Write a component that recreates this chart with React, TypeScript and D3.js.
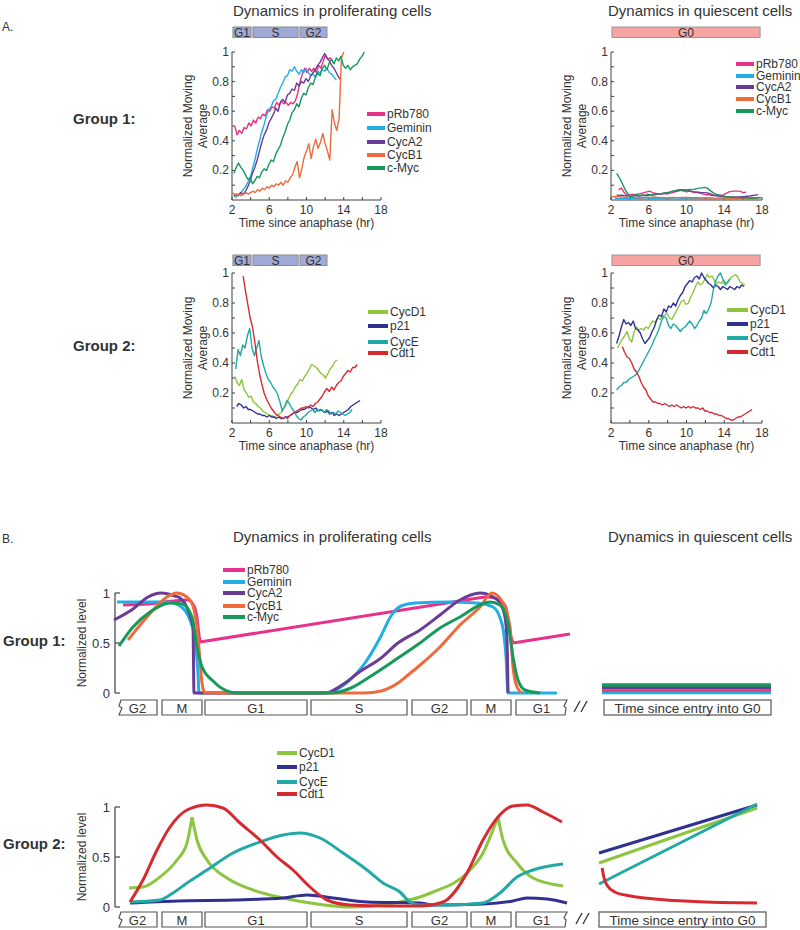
import * as d3 from "d3";

type Pt = [number, number];
type Sampled = { start: number; step: number; vals: number[] };

const FONT = "'Liberation Sans', Arial, Helvetica, sans-serif";
const INK = "#333";
const AXIS = "#404040";

const COLOR: Record<string, string> = {
  pRb780: "#e8318a",
  Geminin: "#20aee5",
  CycA2: "#6b3c97",
  CycB1: "#ef6b3b",
  "c-Myc": "#17995a",
  CycD1: "#8cc540",
  p21: "#2f3192",
  CycE: "#22a9a6",
  Cdt1: "#d72a30",
};

const group1Names = ["pRb780", "Geminin", "CycA2", "CycB1", "c-Myc"];
const group2Names = ["CycD1", "p21", "CycE", "Cdt1"];

// ---- A. moving averages, time since anaphase (hr)
const xTickLabels = [2, 6, 10, 14, 18];
const yTickLabels = [0.2, 0.4, 0.6, 0.8, 1];

const prolifBars = [
  { label: "G1", from: 2.1, to: 4.05 },
  { label: "S", from: 4.25, to: 9.1 },
  { label: "G2", from: 9.3, to: 12.2 },
];
const quiescentBars = [{ label: "G0", from: 2.1, to: 17.8 }];

// group 1, proliferating
const pRb780Prolif: Sampled = { start: 2.3, step: 0.25, vals: [
  0.50, 0.44, 0.47, 0.45, 0.49, 0.48, 0.52, 0.50, 0.54, 0.52, 0.56, 0.55, 0.58, 0.57, 0.61, 0.60,
  0.63, 0.62, 0.66, 0.64, 0.67, 0.65, 0.66, 0.64, 0.66, 0.65, 0.67, 0.72, 0.80, 0.85, 0.89, 0.86,
  0.89, 0.87, 0.89, 0.86, 0.91, 0.89, 0.94, 0.98, 0.95, 0.96, 0.94] };
const gemininProlif: Sampled = { start: 2.2, step: 0.25, vals: [
  0.03, 0.02, 0.04, 0.05, 0.07, 0.09, 0.12, 0.15, 0.21, 0.27, 0.34, 0.40, 0.46, 0.51, 0.57, 0.61,
  0.63, 0.67, 0.68, 0.72, 0.76, 0.79, 0.83, 0.84, 0.88, 0.87, 0.90, 0.87, 0.85, 0.88, 0.86, 0.89,
  0.86, 0.84, 0.85, 0.83, 0.87, 0.86, 0.88, 0.87, 0.89, 0.86, 0.85, 0.83, 0.81] };
const cycA2Prolif: Sampled = { start: 2.2, step: 0.25, vals: [
  0.03, 0.04, 0.03, 0.05, 0.04, 0.06, 0.09, 0.13, 0.18, 0.22, 0.27, 0.33, 0.39, 0.44, 0.47, 0.52,
  0.55, 0.58, 0.62, 0.60, 0.66, 0.68, 0.66, 0.71, 0.72, 0.75, 0.74, 0.79, 0.77, 0.80, 0.79, 0.82,
  0.80, 0.84, 0.86, 0.88, 0.91, 0.93, 0.96, 0.99, 0.96, 0.94, 0.91, 0.89, 0.86, 0.83, 0.81] };
const cycB1Prolif: Sampled = { start: 2.0, step: 0.25, vals: [
  0.05, 0.04, 0.03, 0.04, 0.03, 0.04, 0.05, 0.04, 0.05, 0.06, 0.05, 0.07, 0.06, 0.08, 0.07, 0.09,
  0.08, 0.10, 0.09, 0.11, 0.10, 0.12, 0.10, 0.13, 0.12, 0.15, 0.17, 0.22, 0.26, 0.15, 0.21, 0.29,
  0.33, 0.38, 0.28, 0.36, 0.41, 0.35, 0.39, 0.45, 0.38, 0.33, 0.27, 0.61, 0.52, 0.47, 0.55, 0.96, 1.0] };
const cMycProlif: Sampled = { start: 2.2, step: 0.25, vals: [
  0.18, 0.22, 0.25, 0.22, 0.20, 0.17, 0.14, 0.15, 0.11, 0.13, 0.16, 0.15, 0.19, 0.21, 0.20, 0.24,
  0.27, 0.26, 0.31, 0.34, 0.37, 0.42, 0.46, 0.51, 0.54, 0.59, 0.61, 0.65, 0.63, 0.69, 0.72, 0.71,
  0.76, 0.79, 0.78, 0.83, 0.86, 0.84, 0.89, 0.91, 0.88, 0.93, 0.95, 0.92, 0.96, 0.94, 0.97, 0.91,
  0.89, 0.91, 0.88, 0.90, 0.91, 0.92, 0.95, 0.97, 1.0] };

// group 1, quiescent
const pRb780Quiet: Sampled = { start: 2.8, step: 0.3, vals: [
  0.07, 0.08, 0.05, 0.03, 0.035, 0.04, 0.035, 0.04, 0.045, 0.05, 0.055, 0.06, 0.05, 0.045, 0.04, 0.04,
  0.045, 0.04, 0.045, 0.05, 0.055, 0.06, 0.065, 0.06, 0.055, 0.06, 0.055, 0.05, 0.05, 0.045, 0.04, 0.035,
  0.035, 0.03, 0.03, 0.03, 0.032, 0.035, 0.045, 0.055, 0.058, 0.06, 0.06, 0.058, 0.05, 0.052] };
const gemininQuiet: Sampled = { start: 2.4, step: 0.8, vals: [
  0.01, 0.009, 0.008, 0.008, 0.007, 0.008, 0.009, 0.008, 0.007, 0.008, 0.008, 0.009, 0.008, 0.007,
  0.008, 0.008, 0.007, 0.008, 0.008, 0.008] };
const cycA2Quiet: Sampled = { start: 2.6, step: 0.3, vals: [
  0.035, 0.03, 0.032, 0.028, 0.03, 0.025, 0.028, 0.03, 0.027, 0.03, 0.032, 0.03, 0.035, 0.033, 0.038, 0.04,
  0.042, 0.045, 0.05, 0.055, 0.06, 0.062, 0.066, 0.07, 0.068, 0.065, 0.06, 0.055, 0.055, 0.052, 0.05, 0.05,
  0.048, 0.042, 0.035, 0.03, 0.027, 0.025, 0.022, 0.02, 0.02, 0.02, 0.02, 0.021, 0.022, 0.023, 0.025, 0.027,
  0.03, 0.033, 0.036] };
const cycB1Quiet: Sampled = { start: 2.1, step: 0.5, vals: [
  0.022, 0.024, 0.02, 0.018, 0.02, 0.016, 0.015, 0.017, 0.018, 0.02, 0.018, 0.016, 0.015, 0.017, 0.016, 0.018,
  0.017, 0.015, 0.016, 0.014, 0.015, 0.014, 0.013, 0.014, 0.013, 0.012, 0.013, 0.012, 0.012, 0.013, 0.012, 0.012] };
const cMycQuiet: Sampled = { start: 2.6, step: 0.3, vals: [
  0.18, 0.15, 0.11, 0.07, 0.04, 0.02, 0.03, 0.04, 0.03, 0.035, 0.03, 0.04, 0.035, 0.04, 0.045, 0.04,
  0.045, 0.05, 0.045, 0.055, 0.06, 0.065, 0.07, 0.065, 0.07, 0.068, 0.072, 0.07, 0.075, 0.08, 0.082, 0.085,
  0.08, 0.065, 0.05, 0.04, 0.035, 0.03, 0.025, 0.02, 0.02, 0.018, 0.018, 0.016, 0.015, 0.015, 0.015, 0.014,
  0.015, 0.014, 0.015, 0.015] };

// group 2, proliferating
const cycD1Prolif: Sampled = { start: 2.3, step: 0.25, vals: [
  0.31, 0.27, 0.25, 0.29, 0.22, 0.20, 0.17, 0.18, 0.14, 0.13, 0.11, 0.10, 0.08, 0.07, 0.06, 0.05,
  0.05, 0.04, 0.05, 0.06, 0.07, 0.10, 0.12, 0.16, 0.19, 0.21, 0.24, 0.26, 0.29, 0.28, 0.31, 0.33,
  0.36, 0.39, 0.38, 0.37, 0.35, 0.33, 0.32, 0.30, 0.33, 0.36, 0.38, 0.41, 0.42] };
const p21Prolif: Sampled = { start: 2.5, step: 0.25, vals: [
  0.11, 0.13, 0.12, 0.10, 0.11, 0.09, 0.09, 0.08, 0.07, 0.06, 0.06, 0.05, 0.05, 0.04, 0.05, 0.04,
  0.04, 0.03, 0.04, 0.03, 0.03, 0.04, 0.04, 0.05, 0.06, 0.07, 0.07, 0.08, 0.09, 0.09, 0.10, 0.11,
  0.10, 0.09, 0.10, 0.08, 0.09, 0.08, 0.07, 0.08, 0.06, 0.07, 0.05, 0.06, 0.05, 0.06, 0.07, 0.08,
  0.09, 0.11, 0.12, 0.13, 0.14, 0.15] };
const cycEProlif: Sampled = { start: 2.4, step: 0.25, vals: [
  0.36, 0.49, 0.45, 0.52, 0.50, 0.58, 0.63, 0.50, 0.45, 0.50, 0.55, 0.44, 0.38, 0.33, 0.29, 0.27,
  0.24, 0.22, 0.19, 0.14, 0.08, 0.11, 0.15, 0.13, 0.10, 0.08, 0.05, 0.03, 0.02, 0.04, 0.05, 0.07,
  0.08, 0.09, 0.07, 0.09, 0.08, 0.09, 0.07, 0.09, 0.08, 0.06, 0.07, 0.06, 0.08, 0.07, 0.06, 0.05,
  0.06, 0.07, 0.09] };
const cdt1Prolif: Sampled = { start: 3.2, step: 0.25, vals: [
  0.98, 0.88, 0.79, 0.70, 0.64, 0.54, 0.42, 0.33, 0.26, 0.20, 0.16, 0.13, 0.10, 0.08, 0.06, 0.05,
  0.04, 0.03, 0.04, 0.03, 0.05, 0.06, 0.07, 0.08, 0.09, 0.10, 0.10, 0.11, 0.10, 0.12, 0.11, 0.13,
  0.14, 0.16, 0.18, 0.21, 0.23, 0.21, 0.24, 0.22, 0.25, 0.27, 0.28, 0.31, 0.33, 0.35, 0.34, 0.37,
  0.37, 0.39] };

// group 2, quiescent
const cycD1Quiet: Sampled = { start: 2.7, step: 0.25, vals: [
  0.50, 0.53, 0.56, 0.58, 0.61, 0.56, 0.54, 0.61, 0.64, 0.62, 0.63, 0.62, 0.64, 0.63, 0.66, 0.68,
  0.67, 0.70, 0.69, 0.71, 0.72, 0.73, 0.70, 0.69, 0.72, 0.75, 0.78, 0.81, 0.82, 0.79, 0.80, 0.84,
  0.87, 0.91, 0.94, 0.92, 0.93, 0.96, 0.99, 0.97, 0.98, 0.95, 0.93, 0.94, 0.93, 0.95, 0.93, 0.94,
  0.97, 0.98, 0.99, 0.97, 0.94, 0.93, 0.92] };
const p21Quiet: Sampled = { start: 2.6, step: 0.25, vals: [
  0.53, 0.58, 0.64, 0.69, 0.66, 0.67, 0.65, 0.68, 0.63, 0.62, 0.60, 0.56, 0.53, 0.55, 0.57, 0.61,
  0.64, 0.69, 0.72, 0.71, 0.76, 0.74, 0.78, 0.77, 0.80, 0.78, 0.82, 0.85, 0.87, 0.91, 0.93, 0.95,
  0.94, 0.97, 0.98, 0.96, 1.0, 0.97, 0.95, 0.93, 0.92, 0.90, 0.92, 0.91, 0.89, 0.91, 0.90, 0.89,
  0.91, 0.90, 0.89, 0.91, 0.90, 0.92, 0.91] };
const cycEQuiet: Sampled = { start: 2.6, step: 0.25, vals: [
  0.22, 0.24, 0.25, 0.27, 0.27, 0.29, 0.30, 0.31, 0.32, 0.34, 0.37, 0.40, 0.43, 0.46, 0.49, 0.52,
  0.56, 0.59, 0.63, 0.68, 0.71, 0.70, 0.65, 0.63, 0.66, 0.65, 0.63, 0.61, 0.63, 0.64, 0.66, 0.68,
  0.66, 0.63, 0.65, 0.68, 0.70, 0.75, 0.73, 0.76, 0.80, 0.89, 0.95, 0.98, 1.0, 0.96, 0.92, 0.94, 0.96] };
const cdt1Quiet: Sampled = { start: 3.2, step: 0.25, vals: [
  0.51, 0.47, 0.44, 0.43, 0.40, 0.36, 0.34, 0.31, 0.27, 0.24, 0.22, 0.18, 0.16, 0.14, 0.14, 0.13,
  0.13, 0.12, 0.13, 0.12, 0.11, 0.12, 0.11, 0.12, 0.11, 0.10, 0.11, 0.10, 0.11, 0.10, 0.11, 0.10,
  0.10, 0.09, 0.10, 0.08, 0.08, 0.07, 0.07, 0.06, 0.06, 0.05, 0.05, 0.04, 0.03, 0.03, 0.02, 0.02,
  0.03, 0.04, 0.04, 0.05, 0.06, 0.07, 0.08, 0.09] };

// ---- B. schematic levels along the cycle (cycle units, 0..45)
const phaseNames = ["G2", "M", "G1", "S", "G2", "M", "G1"];
const phaseStart = [0, 4.4, 8.7, 19.3, 29.4, 35.3, 39.8];
const phaseEnd = [3.9, 8.4, 18.9, 28.9, 34.9, 39.3, 44.9];
const levelTicks = [0, 0.5, 1];

// each curve is a list of smooth segments (corners sit between segments)
const pRb780Cycle: Pt[][] = [
  [[0.5, 0.88], [3, 0.89], [5.5, 0.92], [7.0, 0.93], [7.6, 0.87], [7.9, 0.75], [8.1, 0.58], [8.2, 0.51]],
  [[8.2, 0.51], [36, 0.95]],
  [[36, 0.95], [37, 0.96], [38.2, 0.93], [38.8, 0.85], [39.2, 0.6], [39.5, 0.5]],
  [[39.5, 0.5], [45.2, 0.59]],
];
const gemininCycle: Pt[][] = [[
  [-0.1, 0.91], [4.9, 0.91], [6.2, 0.87], [7.2, 0.73], [7.7, 0.53], [8.0, 0.2], [8.1, 0], [20.7, 0],
  [23.3, 0.14], [24.7, 0.3], [26.3, 0.57], [27.3, 0.77], [28.3, 0.87], [29.7, 0.9], [33, 0.91],
  [35.9, 0.9], [37.5, 0.86], [38.4, 0.69], [38.8, 0.36], [39.0, 0], [43.9, 0],
]];
const cycA2Cycle: Pt[][] = [[
  [-0.4, 0.73], [1.5, 0.84], [3, 0.96], [4.3, 1.0], [5.7, 0.97], [6.2, 0.95], [7.0, 0.83], [7.5, 0.66],
  [7.6, 0], [20.7, 0], [22.7, 0.1], [24, 0.2], [26.3, 0.35], [28, 0.5], [30.2, 0.63], [32.2, 0.78],
  [34.2, 0.93], [36.2, 1.0], [37.5, 0.96], [38.2, 0.9], [38.7, 0.76], [38.9, 0.53], [39.0, 0],
]];
const cycB1Cycle: Pt[][] = [[
  [1.0, 0.53], [2.9, 0.76], [4.9, 0.96], [5.9, 1.0], [7.2, 0.93], [7.9, 0.66], [8.2, 0.33], [8.4, 0.1],
  [8.7, 0], [24.7, 0], [26.3, 0.02], [28, 0.1], [29, 0.18], [30.1, 0.27], [32.2, 0.46], [34.2, 0.68],
  [36.2, 0.86], [37.4, 1.0], [38.5, 0.9], [39.2, 0.66], [39.5, 0.26], [39.9, 0.06], [40.4, 0],
]];
const cMycCycle: Pt[][] = [[
  [0.1, 0.47], [1.5, 0.66], [3.2, 0.81], [5.2, 0.9], [6.4, 0.89], [7.4, 0.76], [7.9, 0.46], [8.4, 0.26],
  [9.5, 0.12], [11.2, 0.01], [12, 0], [21.3, 0], [23.3, 0.05], [25.3, 0.17], [28, 0.35], [30.2, 0.5],
  [32.2, 0.65], [34.2, 0.76], [36.2, 0.88], [37.2, 0.91], [38.2, 0.88], [39.0, 0.7], [39.5, 0.36],
  [40.0, 0.13], [40.7, 0.03], [42.2, 0],
]];
const cycD1Cycle: Pt[][] = [
  [[1.1, 0.19], [2.5, 0.2], [4.2, 0.3], [5.9, 0.47], [6.9, 0.64], [7.4, 0.9]],
  [[7.4, 0.9], [7.9, 0.67], [8.9, 0.47], [10.9, 0.29], [13.5, 0.17], [16.5, 0.09], [19.9, 0.03],
   [23.2, 0.0], [26.5, 0.02], [28.2, 0.05], [30.2, 0.1], [31.5, 0.15], [34.9, 0.34], [36.5, 0.54],
   [37.5, 0.77], [38.0, 0.9]],
  [[38.0, 0.9], [38.5, 0.67], [39.9, 0.44], [41.5, 0.29], [44.5, 0.21]],
];
const p21Cycle: Pt[][] = [[
  [1.2, 0.04], [5.9, 0.06], [11.5, 0.07], [16.5, 0.09], [18.9, 0.12], [21.5, 0.09], [24.9, 0.05],
  [30.2, 0.04], [31.5, 0.02], [36.5, 0.03], [39.5, 0.06], [40.9, 0.09], [42.9, 0.08], [44.9, 0.04],
]];
const cycECycle: Pt[][] = [[
  [1.2, 0.05], [4.2, 0.07], [5.5, 0.14], [6.9, 0.24], [8.9, 0.37], [11.5, 0.54], [14.2, 0.65],
  [16.5, 0.72], [18.2, 0.74], [20.2, 0.69], [22.5, 0.54], [24.9, 0.37], [26.5, 0.24], [28.2, 0.15],
  [29.2, 0.05], [30.2, 0.02], [33, 0.02], [36.5, 0.04], [38.2, 0.14], [39.9, 0.3], [41.5, 0.37], [44.5, 0.43],
]];
const cdt1Cycle: Pt[][] = [[
  [1.2, 0.05], [2.5, 0.27], [3.9, 0.57], [5.2, 0.8], [6.9, 0.97], [8.9, 1.02], [10.5, 0.99], [12.2, 0.84],
  [14.2, 0.67], [15.9, 0.5], [17.5, 0.37], [19.2, 0.2], [20.9, 0.07], [23.2, 0.02], [27, 0.01],
  [30.2, 0.01], [32.5, 0.05], [34.9, 0.34], [36.5, 0.67], [38.0, 0.9], [39.5, 1.01], [40.9, 1.02],
  [42.5, 0.95], [44.4, 0.85],
]];

// quiescent schematic, time since entry into G0 scaled 0..1
const g1Flat: Record<string, number> = { Geminin: 0.005, pRb780: 0.03, CycB1: 0.045, CycA2: 0.055, "c-Myc": 0.08 };
const g1FlatOrder = ["Geminin", "pRb780", "CycB1", "CycA2", "c-Myc"];
const p21G0: Pt[] = [[0, 0.54], [1, 1.02]];
const cycD1G0: Pt[] = [[0, 0.44], [1, 0.99]];
const cycEG0: Pt[] = [[0, 0.23], [1, 1.03]];
const cdt1G0: Pt[] = [[0.02, 0.39], [0.032, 0.29], [0.05, 0.22], [0.1, 0.15], [0.2, 0.11], [0.35, 0.08], [0.6, 0.055], [1, 0.04]];

const sampled = (s: Sampled): Pt[] => s.vals.map((v, i) => [s.start + i * s.step, v]);

function TracePanel(props: any) {
  const { xr, yr, names, series, legend, bars, barTop, barFill, barStroke } = props;
  const x = d3.scaleLinear().domain([2, 18]).range(xr);
  const y = d3.scaleLinear().domain([0, 1]).range(yr);
  const line = d3.line<Pt>().x(d => x(d[0])).y(d => y(d[1]));
  const x0 = xr[0];
  const y0 = yr[0];
  const midY = (y(1) + y0) / 2;
  return (
    <g>
      {bars.map((b: any) => (
        <g key={b.label}>
          <rect x={x(b.from)} y={barTop} width={x(b.to) - x(b.from)} height={10.5}
            fill={barFill} stroke={barStroke} strokeWidth={1} />
          <text x={(x(b.from) + x(b.to)) / 2} y={barTop + 5.5} textAnchor="middle"
            dominantBaseline="central" fontSize={12} fill={INK}>{b.label}</text>
        </g>
      ))}
      <line x1={x0} x2={x0} y1={y(1)} y2={y0} stroke={AXIS} />
      <line x1={x0} x2={x(18)} y1={y0} y2={y0} stroke={AXIS} />
      {d3.range(2, 19, 2).map(t => (
        <line key={"xt" + t} x1={x(t)} x2={x(t)} y1={y0} y2={y0 - 3} stroke={AXIS} />
      ))}
      {xTickLabels.map(t => (
        <text key={"xl" + t} x={x(t)} y={y0 + 10} textAnchor="middle" dominantBaseline="central"
          fontSize={12} fill={INK}>{t}</text>
      ))}
      {d3.range(1, 11).map(i => (
        <line key={"yt" + i} x1={x0} x2={x0 + 3} y1={y(i / 10)} y2={y(i / 10)} stroke={AXIS} />
      ))}
      {yTickLabels.map(t => (
        <text key={"yl" + t} x={x0 - 3} y={y(t)} textAnchor="end" dominantBaseline="central"
          fontSize={12} fill={INK}>{t}</text>
      ))}
      <text transform={`translate(${x0 - 44},${midY}) rotate(-90)`} textAnchor="middle"
        dominantBaseline="central" fontSize={12} fill={INK}>Normalized Moving</text>
      <text transform={`translate(${x0 - 29},${midY}) rotate(-90)`} textAnchor="middle"
        dominantBaseline="central" fontSize={12} fill={INK}>Average</text>
      <text x={(x0 + x(18)) / 2} y={y0 + 23} textAnchor="middle" dominantBaseline="central"
        fontSize={12} fill={INK}>Time since anaphase (hr)</text>
      {names.map((n: string) => (
        <path key={n} d={line(sampled(series[n])) || ""} fill="none" stroke={COLOR[n]}
          strokeWidth={1.4} strokeLinejoin="round" />
      ))}
      {names.map((n: string, i: number) => (
        <g key={"lg" + n}>
          <line x1={legend.x1} x2={legend.x2} y1={legend.ys[i]} y2={legend.ys[i]}
            stroke={COLOR[n]} strokeWidth={4} />
          <text x={legend.tx} y={legend.ys[i]} dominantBaseline="central" fontSize={12}
            fill={INK}>{n}</text>
        </g>
      ))}
    </g>
  );
}

function CyclePanel(props: any) {
  const { yr, names, curves, boxTop, legend, quiet, quietLines, quietBox, slashX } = props;
  const x = d3.scaleLinear().domain([0, 45]).range([118, 568]);
  const y = d3.scaleLinear().domain([0, 1]).range(yr);
  const q = d3.scaleLinear().domain([0, 1]).range(quietLines);
  const line = d3.line<Pt>().x(d => x(d[0])).y(d => y(d[1])).curve(d3.curveMonotoneX);
  const qLine = d3.line<Pt>().x(d => q(d[0])).y(d => y(d[1])).curve(d3.curveMonotoneX);
  const bTop = boxTop;
  const bBot = boxTop + 15;
  const last = phaseNames.length - 1;
  const boxPath = (i: number) => {
    const l = x(phaseStart[i]);
    const r = x(phaseEnd[i]);
    const left = i === 0
      ? `M${l + 3},${bTop} L${l + 1},${bTop + 6} L${l + 4},${bTop + 8} L${l + 1},${bBot}`
      : `M${l},${bTop} L${l},${bBot}`;
    const right = i === last
      ? `L${r - 2},${bBot} L${r - 1},${bTop + 8} L${r - 3},${bTop + 6} L${r},${bTop}`
      : `L${r},${bBot} L${r},${bTop}`;
    return `${left} ${right} Z`;
  };
  return (
    <g>
      <line x1={115} x2={115} y1={y(1)} y2={y(0)} stroke={AXIS} strokeWidth={1.2} />
      {levelTicks.map(t => (
        <g key={"lt" + t}>
          <line x1={115} x2={120} y1={y(t)} y2={y(t)} stroke={AXIS} strokeWidth={1.2} />
          <text x={110} y={y(t)} textAnchor="end" dominantBaseline="central" fontSize={13}
            fill={INK}>{t}</text>
        </g>
      ))}
      <text transform={`translate(82,${(y(0) + y(1)) / 2}) rotate(-90)`} textAnchor="middle"
        dominantBaseline="central" fontSize={12} fill={INK}>Normalized level</text>
      {phaseNames.map((p, i) => (
        <g key={"ph" + i}>
          <path d={boxPath(i)} fill="white" stroke="#555" strokeWidth={1.2} />
          <text x={(x(phaseStart[i]) + x(phaseEnd[i])) / 2} y={bTop + 8} textAnchor="middle"
            dominantBaseline="central" fontSize={13} fill={INK}>{p}</text>
        </g>
      ))}
      <line x1={slashX} y1={bBot - 3} x2={slashX + 6} y2={bTop + 1} stroke={INK} strokeWidth={1.3} />
      <line x1={slashX + 7} y1={bBot - 3} x2={slashX + 13} y2={bTop + 1} stroke={INK} strokeWidth={1.3} />
      <rect x={quietBox[0]} y={bTop} width={quietBox[1] - quietBox[0]} height={15} fill="white"
        stroke="#555" strokeWidth={1.2} />
      <text x={(quietBox[0] + quietBox[1]) / 2} y={bTop + 8} textAnchor="middle"
        dominantBaseline="central" fontSize={13.5} fill={INK}>Time since entry into G0</text>
      {names.map((n: string) => (
        <path key={n} d={curves[n].map((s: Pt[]) => line(s)).join("")} fill="none"
          stroke={COLOR[n]} strokeWidth={3} strokeLinejoin="round" />
      ))}
      {quiet.map((qs: any) => (
        <path key={"q" + qs.name} d={qLine(qs.pts) || ""} fill="none" stroke={COLOR[qs.name]}
          strokeWidth={qs.width} />
      ))}
      {names.map((n: string, i: number) => (
        <g key={"lg" + n}>
          <line x1={legend.x1} x2={legend.x2} y1={legend.ys[i]} y2={legend.ys[i]}
            stroke={COLOR[n]} strokeWidth={4} />
          <text x={legend.tx} y={legend.ys[i]} dominantBaseline="central" fontSize={12}
            fill={INK}>{n}</text>
        </g>
      ))}
    </g>
  );
}

export default function App() {
  const g1Prolif = { pRb780: pRb780Prolif, Geminin: gemininProlif, CycA2: cycA2Prolif, CycB1: cycB1Prolif, "c-Myc": cMycProlif };
  const g1Quiet = { pRb780: pRb780Quiet, Geminin: gemininQuiet, CycA2: cycA2Quiet, CycB1: cycB1Quiet, "c-Myc": cMycQuiet };
  const g2Prolif = { CycD1: cycD1Prolif, p21: p21Prolif, CycE: cycEProlif, Cdt1: cdt1Prolif };
  const g2Quiet = { CycD1: cycD1Quiet, p21: p21Quiet, CycE: cycEQuiet, Cdt1: cdt1Quiet };
  const g1Cycle = { pRb780: pRb780Cycle, Geminin: gemininCycle, CycA2: cycA2Cycle, CycB1: cycB1Cycle, "c-Myc": cMycCycle };
  const g2Cycle = { CycD1: cycD1Cycle, p21: p21Cycle, CycE: cycECycle, Cdt1: cdt1Cycle };
  const g1G0 = g1FlatOrder.map(n => ({ name: n, pts: [[0, g1Flat[n]], [1, g1Flat[n]]] as Pt[], width: 3.5 }));
  const g2G0 = [
    { name: "p21", pts: p21G0, width: 3 },
    { name: "CycD1", pts: cycD1G0, width: 3 },
    { name: "CycE", pts: cycEG0, width: 3 },
    { name: "Cdt1", pts: cdt1G0, width: 3 },
  ];
  const prolifBarStyle = { barFill: "#9ea9d6", barStroke: "#8c8c8c" };
  const quietBarStyle = { barFill: "#f5a3a3", barStroke: "#9a9a9a" };

  return (
    <svg width={800} height={930} style={{ position: "absolute", left: 0, top: 0, fontFamily: FONT }}>
      <rect width={800} height={930} fill="white" />
      <text x={2} y={31} fontSize={12} fill={INK}>A.</text>
      <text x={233} y={16} fontSize={15} fill={INK}>Dynamics in proliferating cells</text>
      <text x={608} y={16} fontSize={15} fill={INK}>Dynamics in quiescent cells</text>
      <text x={73} y={118} dominantBaseline="central" fontSize={15} fontWeight="bold" fill={INK}>Group 1:</text>
      <text x={73} y={345} dominantBaseline="central" fontSize={15} fontWeight="bold" fill={INK}>Group 2:</text>

      <TracePanel xr={[232, 381]} yr={[200, 52]} names={group1Names} series={g1Prolif}
        bars={prolifBars} barTop={27} {...prolifBarStyle}
        legend={{ x1: 367, x2: 385, tx: 387, ys: [114, 128, 142, 155, 168] }} />
      <TracePanel xr={[611, 762]} yr={[200, 52]} names={group1Names} series={g1Quiet}
        bars={quiescentBars} barTop={27} {...quietBarStyle}
        legend={{ x1: 736, x2: 754, tx: 756, ys: [64, 76, 87, 99, 111] }} />
      <TracePanel xr={[232, 381]} yr={[423, 273]} names={group2Names} series={g2Prolif}
        bars={prolifBars} barTop={255} {...prolifBarStyle}
        legend={{ x1: 368, x2: 388, tx: 390, ys: [312, 326, 342, 353] }} />
      <TracePanel xr={[611, 762]} yr={[423, 273]} names={group2Names} series={g2Quiet}
        bars={quiescentBars} barTop={255} {...quietBarStyle}
        legend={{ x1: 727, x2: 748, tx: 750, ys: [310, 324, 338, 352] }} />

      <text x={2} y={543} fontSize={12} fill={INK}>B.</text>
      <text x={233} y={542} fontSize={15} fill={INK}>Dynamics in proliferating cells</text>
      <text x={608} y={542} fontSize={15} fill={INK}>Dynamics in quiescent cells</text>
      <text x={3} y={640} dominantBaseline="central" fontSize={15} fontWeight="bold" fill={INK}>Group 1:</text>
      <text x={3} y={843} dominantBaseline="central" fontSize={15} fontWeight="bold" fill={INK}>Group 2:</text>

      <CyclePanel yr={[693, 593]} names={group1Names} curves={g1Cycle} boxTop={700}
        quiet={g1G0} quietLines={[602, 771]} quietBox={[604, 771]} slashX={574}
        legend={{ x1: 223, x2: 245, tx: 247, ys: [570, 582, 593, 606, 617] }} />
      <CyclePanel yr={[907, 807]} names={group2Names} curves={g2Cycle} boxTop={912}
        quiet={g2G0} quietLines={[599, 757]} quietBox={[599, 766]} slashX={576}
        legend={{ x1: 277, x2: 297, tx: 299, ys: [753, 767, 782, 794] }} />
    </svg>
  );
}
